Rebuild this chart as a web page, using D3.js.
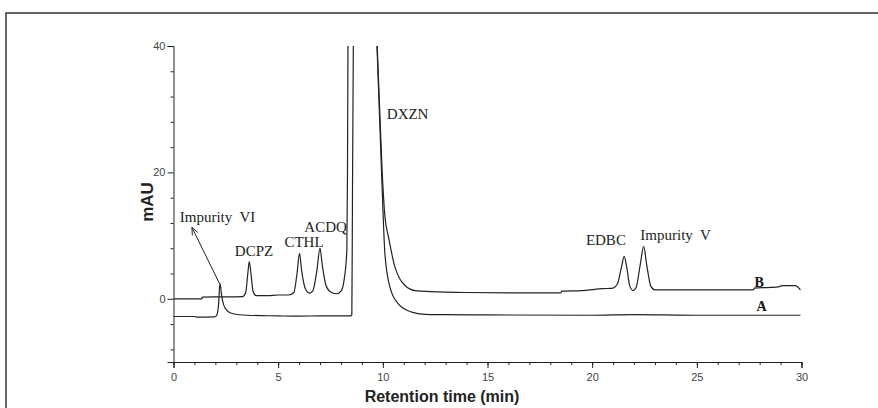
<!DOCTYPE html>
<html lang="en">
<head>
  <meta charset="UTF-8" />
  <title>Chromatogram</title>
  <script src="https://cdn.jsdelivr.net/npm/d3@7"></script>
  <style>
    body { margin: 0; background: #fff; }
    .tick text { font: 11px "Liberation Sans", Arial, sans-serif; fill: #444; }
    .axis path, .axis line { stroke: #222; }
    .peak { font: 15px "Liberation Serif", "Times New Roman", serif; fill: #222; white-space: pre; }
    .trace-label { font: bold 14px "Liberation Serif", "Times New Roman", serif; fill: #111; }
    .title { font: bold 16px "Liberation Sans", Arial, sans-serif; fill: #222; }
  </style>
</head>
<body>
<script>
  // retention time (min), absorbance (mAU)
  const traceB = [
    [0, 0], [1.35, 0], [1.38, 0.25], [2.0, 0.3], [2.5, 0.3], [3.3, 0.35],
    [3.45, 1.0], [3.55, 4.0], [3.62, 5.9], [3.7, 4.0], [3.8, 1.2], [3.95, 0.5],
    [4.5, 0.5], [5.0, 0.6], [5.5, 0.6], [5.75, 1.0], [5.9, 4.0], [6.02, 7.2],
    [6.12, 4.5], [6.3, 1.6], [6.5, 0.9], [6.65, 1.2], [6.85, 4.5], [7.0, 8.0],
    [7.1, 5.5], [7.3, 2.0], [7.55, 1.0], [7.8, 0.8], [8.0, 1.2], [8.15, 3.0],
    [8.28, 7.6], [8.31, 19], [8.34, 45], [9.0, 300], [9.7, 42], [9.73, 40],
    [9.97, 20], [10.1, 13], [10.27, 9.8], [10.58, 5.0], [10.8, 3.2], [11.06, 2.1],
    [11.54, 1.3], [12.3, 1.15], [14, 1.0], [16, 0.95], [18.5, 0.95], [18.55, 1.2],
    [19.5, 1.3], [20.5, 1.6], [21.0, 1.7], [21.2, 2.3], [21.4, 5.0], [21.53, 6.7],
    [21.65, 5.0], [21.8, 2.0], [21.95, 1.3], [22.1, 1.8], [22.3, 5.5], [22.46, 8.3],
    [22.6, 5.5], [22.8, 2.0], [23.0, 1.4], [25, 1.4], [27.7, 1.4], [27.75, 1.7],
    [28.5, 1.8], [28.9, 1.9], [29.1, 2.1], [29.7, 2.1], [29.95, 1.4]
  ];
  const traceA = [
    [0, -2.8], [1.0, -2.8], [1.1, -2.9], [1.95, -2.85], [2.05, -2.7], [2.15, -1.0],
    [2.22, 2.5], [2.3, 0.5], [2.4, -1.0], [2.6, -2.0], [2.9, -2.4], [3.5, -2.6],
    [5, -2.7], [6, -2.75], [7, -2.7], [8.0, -2.7], [8.45, -2.7], [8.52, -2.5],
    [8.55, 17], [8.6, 45], [9.2, 300], [9.7, 42], [9.72, 40], [9.95, 19],
    [10.1, 7.1], [10.34, 1.85], [10.74, -0.8], [11.38, -2.1], [12, -2.45],
    [13, -2.5], [15, -2.55], [20, -2.6], [22, -2.5], [25, -2.6], [28, -2.6], [29.95, -2.6]
  ];

  const xTicks = [0, 5, 10, 15, 20, 25, 30];
  const xMinor = d3.range(0, 31, 1);
  const yTicks = [0, 20, 40];
  const yMinor = [-8, -4, 4, 8, 12, 16, 24, 28, 32, 36];

  // peak annotations: [text, time, mAU]
  const peakLabels = [
    ["Impurity  VI", 0.3, 12.1],
    ["DCPZ", 2.93, 6.7],
    ["CTHL", 5.3, 8.2],
    ["ACDQ", 6.25, 10.6],
    ["DXZN", 10.19, 28.5],
    ["EDBC", 19.7, 8.5],
    ["Impurity  V", 22.3, 9.3]
  ];
  const traceLabels = [["B", 27.75, 1.8], ["A", 27.85, -1.9]];
  const arrowFrom = [2.2, 2.4], arrowTo = [0.88, 11.3];

  const W = 878, H = 408;
  const svg = d3.select("body").append("svg").attr("width", W).attr("height", H);

  // frame around the figure (only top and left are inside the window)
  svg.append("path").attr("d", "M6,408V13H878")
    .attr("fill", "none").attr("stroke", "#333").attr("stroke-width", 1.5);

  const x = d3.scaleLinear().domain([0, 30]).range([173.5, 801.5]);
  const y = d3.scaleLinear().domain([-10, 40]).range([362, 46]);

  svg.append("defs").append("clipPath").attr("id", "plot")
    .append("rect").attr("x", x(0)).attr("y", y(40))
    .attr("width", x(30) - x(0)).attr("height", y(-10) - y(40));

  // axes
  svg.append("g").attr("class", "axis")
    .attr("transform", `translate(0,${y(-10)})`)
    .call(d3.axisBottom(x).tickValues(xMinor).tickSize(3).tickFormat(""))
    .call(g => g.select(".domain").remove())
    .selectAll("line").attr("stroke", "#777");
  svg.append("g").attr("class", "axis")
    .attr("transform", `translate(0,${y(-10)})`)
    .call(d3.axisBottom(x).tickValues(xTicks).tickSizeOuter(0).tickSize(6).tickPadding(5));

  svg.append("g").attr("class", "axis")
    .attr("transform", `translate(${x(0)},0)`)
    .call(d3.axisLeft(y).tickValues(yMinor).tickSize(3).tickFormat(""))
    .call(g => g.select(".domain").remove())
    .selectAll("line").attr("stroke", "#777");
  svg.append("g").attr("class", "axis")
    .attr("transform", `translate(${x(0)},0)`)
    .call(d3.axisLeft(y).tickValues(yTicks).tickSizeOuter(0).tickSize(6).tickPadding(2));

  svg.append("text").attr("class", "title")
    .attr("transform", `translate(153,202) rotate(-90)`)
    .attr("text-anchor", "middle").style("font-size", "17px").text("mAU");
  svg.append("text").attr("class", "title")
    .attr("x", 442).attr("y", 402).attr("text-anchor", "middle")
    .text("Retention time (min)");

  // traces
  const line = d3.line().x(d => x(d[0])).y(d => y(d[1])).curve(d3.curveMonotoneX);
  const plot = svg.append("g").attr("clip-path", "url(#plot)");
  [traceA, traceB].forEach(t => {
    plot.append("path").datum(t).attr("d", line)
      .attr("fill", "none").attr("stroke", "#222").attr("stroke-width", 1.2);
  });

  // labels
  svg.selectAll(".peak").data(peakLabels).join("text")
    .attr("class", "peak")
    .attr("x", d => x(d[1])).attr("y", d => y(d[2]))
    .text(d => d[0]);
  svg.selectAll(".trace-label").data(traceLabels).join("text")
    .attr("class", "trace-label")
    .attr("x", d => x(d[1])).attr("y", d => y(d[2]))
    .text(d => d[0]);

  // arrow to Impurity VI
  const [x1, y1] = [x(arrowFrom[0]), y(arrowFrom[1])];
  const [x2, y2] = [x(arrowTo[0]), y(arrowTo[1])];
  const ang = Math.atan2(y1 - y2, x1 - x2);
  const head = 8, spread = 0.4;
  svg.append("path")
    .attr("d", `M${x1},${y1}L${x2},${y2}` +
      `M${x2 + head * Math.cos(ang - spread)},${y2 + head * Math.sin(ang - spread)}L${x2},${y2}` +
      `L${x2 + head * Math.cos(ang + spread)},${y2 + head * Math.sin(ang + spread)}`)
    .attr("fill", "none").attr("stroke", "#222").attr("stroke-width", 1);
</script>
</body>
</html>
